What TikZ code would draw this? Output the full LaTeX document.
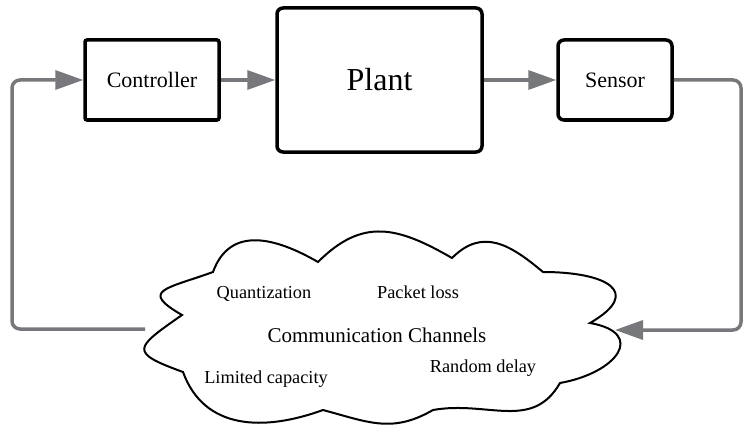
\documentclass[tikz,border=0pt]{standalone}
\usepackage{fontspec}
\setmainfont{Liberation Serif}
\newfontfamily\tms{Liberation Serif}
\usetikzlibrary{arrows.meta}
\definecolor{conn}{HTML}{77787B}
\begin{document}
\begin{tikzpicture}[x=1pt,y=1pt,
  box/.style={draw=black, line width=3.5pt, rounded corners=3pt, inner sep=0pt, fill=white},
  link/.style={draw=conn, line width=3.5pt, -{Triangle[length=28pt,width=19pt]}, rounded corners=8pt},
  lbl/.style={font=\tms\fontsize{18.3}{20}\selectfont, anchor=base, inner sep=0pt},
  cloudline/.style={draw=black, line width=2pt, fill=white}]
\useasboundingbox (0,0) rectangle (745,-428);
% boxes
\node[box, minimum width=134pt, minimum height=80pt, rounded corners=2pt, font=\tms\fontsize{22}{24}\selectfont] (ctrl) at (152,-80) {Controller};
\node[box, minimum width=205pt, minimum height=144pt, rounded corners=6pt, font=\tms\fontsize{32}{36}\selectfont] (plant) at (379.5,-80) {Plant};
\node[box, minimum width=114pt, minimum height=80pt, rounded corners=6pt, font=\tms\fontsize{22}{24}\selectfont] (sens) at (615,-80) {Sensor};
% cloud
\draw[cloudline]
  (182,-315) to[out=150,in=200,looseness=2.4]
  (213,-272) to[out=70,in=150,looseness=1.2]
  (318,-262) to[out=45,in=150,looseness=1.2]
  (452,-258) to[out=45,in=140,looseness=1.2]
  (543,-272) to[out=0,in=30,looseness=2.3]
  (590,-323) to[out=-10,in=10,looseness=2.2]
  (560,-383) to[out=-120,in=10,looseness=1.1]
  (433,-410) to[out=210,in=-15,looseness=1.1]
  (323,-410) to[out=200,in=-70,looseness=1.1]
  (183,-372) to[out=160,in=215,looseness=2.6]
  cycle;
\coordinate (cL) at (145,-329);
\coordinate (cR) at (615,-330);
% labels
\node[lbl] (q) at (264,-298.5) {Quantization};
\node[lbl] (p) at (418,-298.5) {Packet loss};
\node[lbl, font=\tms\fontsize{21}{24}\selectfont] (cc) at (377,-342) {Communication Channels};
\node[lbl] (lc) at (266,-383) {Limited capacity};
\node[lbl] (rd) at (483,-372.5) {Random delay};
% connectors
\coordinate (lcorner) at (12,-80);
\coordinate (rcorner) at (741,-80);
\draw[link] (ctrl.east) -- (plant.west);
\draw[link] (plant.east) -- (sens.west);
\draw[link] (cL) -| (lcorner) -- (ctrl.west);
\draw[link] (sens.east) -- (rcorner) |- (cR);
\end{tikzpicture}
\end{document}
